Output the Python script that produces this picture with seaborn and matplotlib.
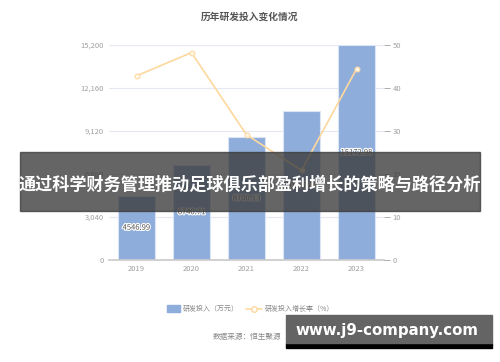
import matplotlib
matplotlib.use("Agg")
import matplotlib.pyplot as plt
import matplotlib.patheffects as pe
from matplotlib.patches import Rectangle
import matplotlib.ticker as mticker
import numpy as np
import pandas as pd
import seaborn as sns

years = ["2019", "2020", "2021", "2022", "2023"]
rd_invest = [4546.99, 6740.71, 8700.13, 10507.0, 15172.98]
growth = [42.8, 48.2, 29.1, 20.8, 44.4]
left_ticks = [0, 3040, 6080, 9120, 12160, 15200]
right_ticks = [0, 10, 20, 30, 40, 50]
title = "历年研发投入变化情况"
legend_labels = ["研发投入（万元）", "研发投入增长率（%）"]
source = "数据来源：恒生聚源"
banner = "通过科学财务管理推动足球俱乐部盈利增长的策略与路径分析"
watermark = "www.j9-company.com"

sns.set_theme(style="white")
plt.rcParams['font.family'] = ['Noto Sans CJK SC', 'DejaVu Sans']

bar_color = "#8eaddb"
line_color = "#fdd89e"
grid_color = "#e4e8f2"
txt_color = "#a0a0a0"

df = pd.DataFrame({"year": years, "rd": rd_invest, "growth": growth})

fig = plt.figure(figsize=(5.0, 3.62), dpi=100)
ax = fig.add_axes([0.218, 0.282, 0.55, 0.594])

sns.barplot(data=df, x="year", y="rd", color=bar_color, width=0.69,
            saturation=1, edgecolor="#dbe5f5", linewidth=0.8, ax=ax, zorder=2)
ax.set_ylim(0, 15200)
ax.set_yticks(left_ticks)
ax.yaxis.set_major_formatter(mticker.FuncFormatter(lambda v, p: f"{int(v):,}"))
ax.grid(axis="y", color=grid_color, linewidth=0.8, zorder=0)
ax.set_axisbelow(True)
ax.set_xlabel("")
ax.set_ylabel("")
for s in ["top", "right", "left"]:
    ax.spines[s].set_visible(False)
ax.spines["bottom"].set_color("#cccccc")
ax.tick_params(axis="both", colors=txt_color, labelsize=5.5, length=0, pad=4)
ax.set_xlim(-0.5, len(years) - 0.5)

for i, v in enumerate(rd_invest):
    ax.text(i, v / 2, f"{v:.2f}", ha="center", va="center", fontsize=5.5,
            color="#555555", zorder=5,
            path_effects=[pe.withStroke(linewidth=1.6, foreground="white")])

ax2 = ax.twinx()
sns.lineplot(x=np.arange(len(years)), y=growth, ax=ax2, color=line_color,
             marker="o", markersize=3.5, markeredgecolor=line_color,
             markerfacecolor="#fff6e6", linewidth=1.2, zorder=4)
ax2.set_ylim(0, 50)
ax2.set_yticks(right_ticks)
for s in ["top", "right", "left", "bottom"]:
    ax2.spines[s].set_visible(False)
ax2.tick_params(axis="y", colors=txt_color, labelsize=5.5, length=4, width=0.6,
                pad=2)
for t in ax2.yaxis.get_ticklines():
    t.set_color(grid_color)
ax2.set_xlim(-0.5, len(years) - 0.5)

fig.text(0.5, 0.953, title, ha="center", va="center", fontsize=7,
         fontweight="bold", color="#555555")

# legend
fig.patches.append(Rectangle((167 / 500, 1 - 312 / 362), 13 / 500, 7 / 362,
                             transform=fig.transFigure, color=bar_color))
fig.text(183 / 500, 1 - 309 / 362, legend_labels[0], ha="left", va="center",
         fontsize=5, color="#888888")
fig.lines.append(plt.Line2D([246 / 500, 262 / 500], [1 - 309 / 362] * 2,
                            transform=fig.transFigure, color=line_color, lw=1.2))
fig.lines.append(plt.Line2D([254 / 500], [1 - 309 / 362], transform=fig.transFigure,
                            marker="o", markersize=4, color=line_color,
                            markerfacecolor="white"))
fig.text(265 / 500, 1 - 309 / 362, legend_labels[1], ha="left", va="center",
         fontsize=5, color="#888888")
fig.text(213 / 500, 1 - 337 / 362, source, ha="left", va="center",
         fontsize=5.5, color="#888888")

# banner overlay
fig.patches.append(Rectangle((20 / 500, 1 - 211 / 362), 460 / 500, 59 / 362,
                             transform=fig.transFigure, color="#3a3a3a",
                             alpha=0.78, zorder=10))
fig.text(0.5, 1 - 185 / 362, banner, ha="center", va="center", fontsize=12.3,
         fontweight="bold", color="white", zorder=11)

# watermark
fig.patches.append(Rectangle((286 / 500, 1 - 348 / 362), 206 / 500, 5 / 362,
                             transform=fig.transFigure, color="black", zorder=10))
fig.patches.append(Rectangle((286 / 500, 1 - 343 / 362), 206 / 500, 28 / 362,
                             transform=fig.transFigure, color="#646464", zorder=10))
fig.text(387 / 500, 1 - 330 / 362, watermark, ha="center", va="center",
         fontsize=10.8, fontweight="bold", color="white", zorder=11,
         family=["DejaVu Sans"])

fig.savefig("out.png", dpi=100)
